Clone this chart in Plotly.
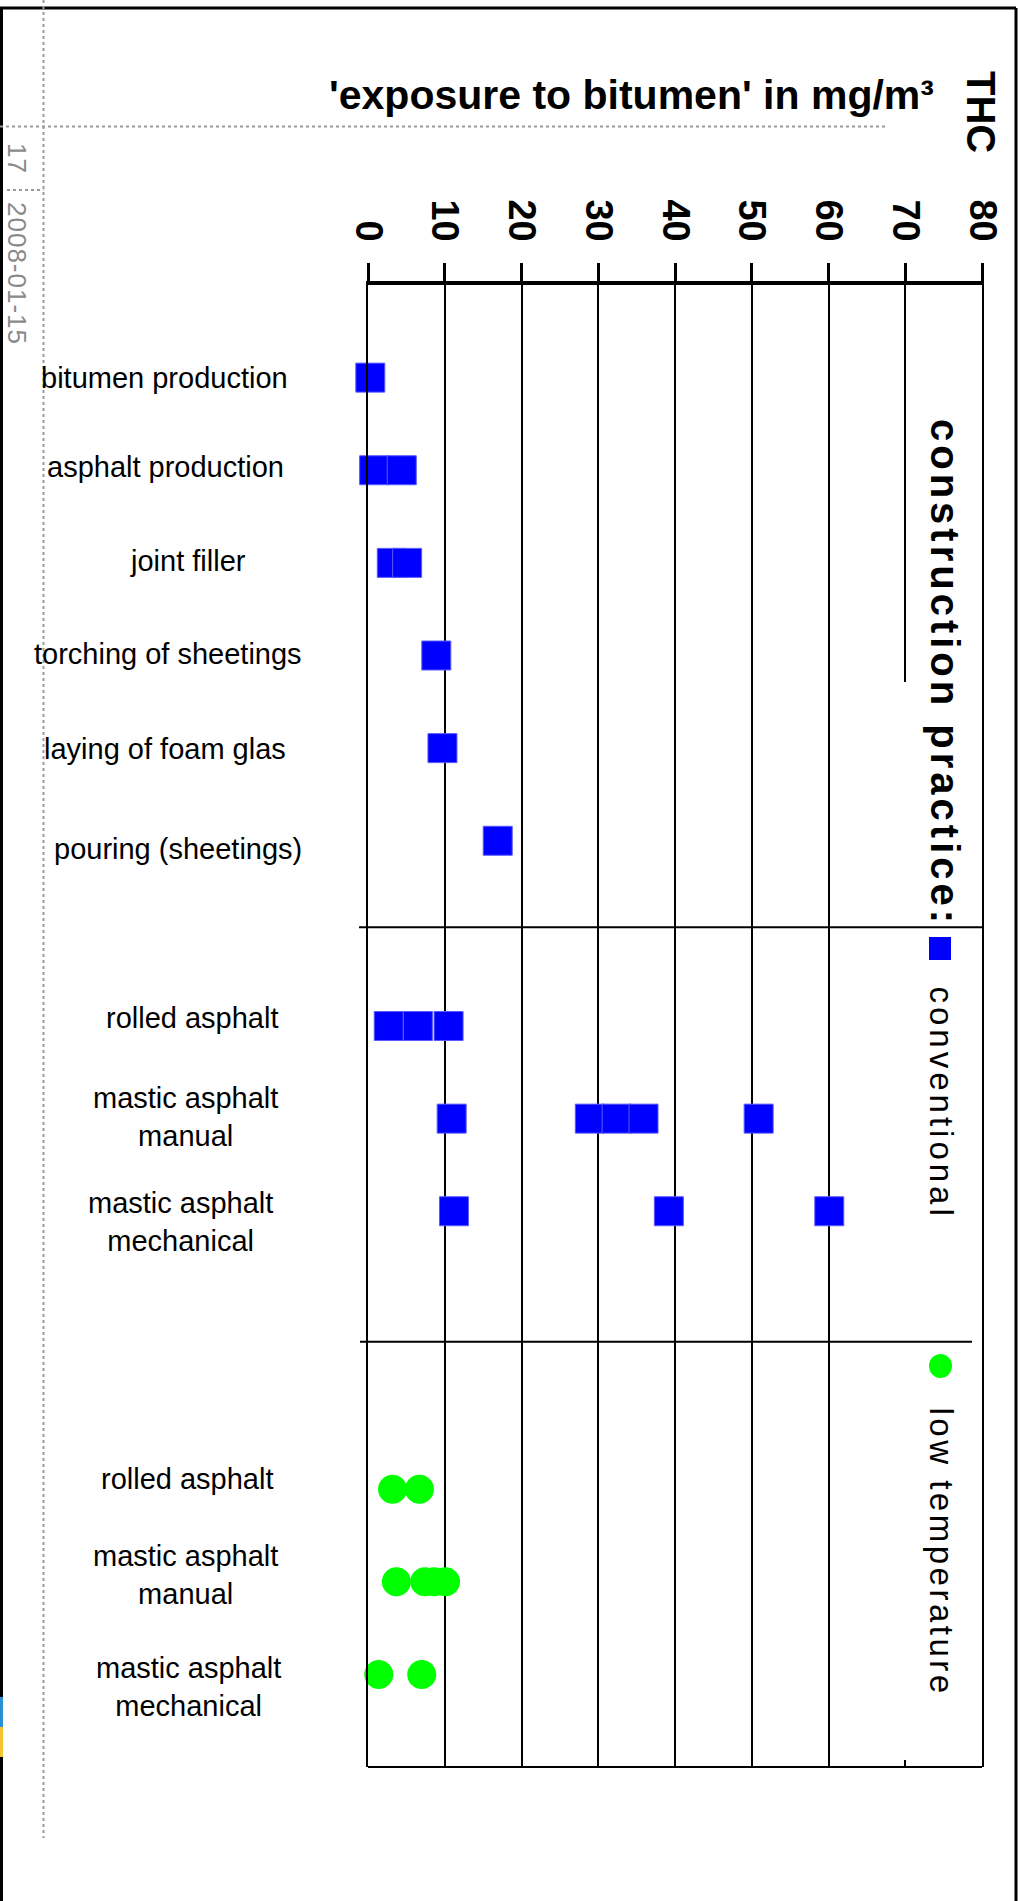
import plotly.graph_objects as go

# ---- data: THC exposure (mg/m³) per working process ----
conv_labels = ["bitumen production", "asphalt production", "joint filler",
               "torching of sheetings", "laying of foam glas", "pouring (sheetings)",
               "rolled asphalt", "mastic asphalt<br>manual", "mastic asphalt<br>mechanical"]
conv_values = [[0.3], [0.8, 4.4], [3.1, 5.1], [8.9], [9.7], [16.9],
               [2.7, 6.5, 10.5], [10.9, 28.9, 32.4, 35.9, 50.9], [11.2, 39.2, 60.1]]

low_labels = ["rolled asphalt", "mastic asphalt<br>manual", "mastic asphalt<br>mechanical"]
low_values = [[3.2, 6.7], [3.7, 7.4, 8.6, 10.1], [1.4, 7.0]]

tick_vals = [0, 10, 20, 30, 40, 50, 60, 70, 80]

# ---- row slots on the vertical axis (three blocks of rows) ----
conv_rows = [0, 1, 2, 3, 4, 5, 7, 8, 9]
low_rows = [12, 13, 14]
block_breaks = [5.934, 10.41]
ROW_PX = 92.625  # pixel height of one row slot

# label placement: horizontal centre (px) and small vertical nudge (px)
label_cx = [164, 165, 188, 168, 165, 178, 192, 185, 181, 187, 185, 188]
label_dy = [0, -3, -2, -2, 1, 8, -8, -2, 11, -10, -7, 13]

# ---- page geometry ----
W, H = 1022, 1901
L, R, T, B = 368, 982, 285, 1767
FONT = "Liberation Sans, Arial, sans-serif"


def px(x):
    return (x - L) / (R - L)


def py(y):
    return (B - y) / (B - T)


def spaced(text, gap):
    return '<span style="letter-spacing:%spx">%s</span>' % (gap, text)


def flatten(rows, values):
    xs, ys = [], []
    for r, vals in zip(rows, values):
        for v in vals:
            xs.append(v)
            ys.append(r)
    return xs, ys


cx, cy = flatten(conv_rows, conv_values)
lx, ly = flatten(low_rows, low_values)

fig = go.Figure()
fig.add_trace(go.Scatter(
    x=cx, y=cy, mode="markers", name="conventional", cliponaxis=False,
    marker=dict(symbol="square", size=29, color="#0000ff",
                line=dict(color="#5a5aff", width=1)),
))
fig.add_trace(go.Scatter(
    x=lx, y=ly, mode="markers", name="low temperature", cliponaxis=False,
    marker=dict(symbol="circle", size=29, color="#00ff00", line=dict(width=0)),
))

annotations = []
# row labels
for lab, r, lxp, dy in zip(conv_labels + low_labels, conv_rows + low_rows, label_cx, label_dy):
    annotations.append(dict(
        text=lab, xref="paper", yref="y", x=px(lxp), y=r + dy / ROW_PX,
        xanchor="center", yanchor="middle", align="center", showarrow=False,
        font=dict(family=FONT, size=29, color="black"),
    ))

# title and side texts
annotations += [
    dict(text="<b>'exposure to bitumen' in mg/m³</b>", xref="paper", yref="paper",
         x=px(936), y=py(95), xanchor="right", yanchor="middle", showarrow=False,
         font=dict(family=FONT, size=41, color="black")),
    dict(text="<b>THC</b>", xref="paper", yref="paper", textangle=90,
         x=px(981), y=py(112), xanchor="center", yanchor="middle", showarrow=False,
         font=dict(family=FONT, size=40, color="black")),
    dict(text="<b>" + spaced("construction practice:", 4) + "</b>", xref="paper",
         yref="paper", textangle=90,
         x=px(945), y=py(417), xanchor="center", yanchor="top", showarrow=False,
         font=dict(family=FONT, size=40, color="black")),
    dict(text=spaced("conventional", 4), xref="paper", yref="paper", textangle=90,
         x=px(941), y=py(984), xanchor="center", yanchor="top", showarrow=False,
         font=dict(family=FONT, size=33, color="black")),
    dict(text=spaced("low temperature", 3.5), xref="paper", yref="paper", textangle=90,
         x=px(941), y=py(1405), xanchor="center", yanchor="top", showarrow=False,
         font=dict(family=FONT, size=33, color="black")),
    dict(text=spaced("17", 1), xref="paper", yref="paper", textangle=90,
         x=px(17), y=py(158), xanchor="center", yanchor="middle", showarrow=False,
         font=dict(family=FONT, size=26, color="#8a8a8a")),
    dict(text=spaced("2008-01-15", 1), xref="paper", yref="paper", textangle=90,
         x=px(17), y=py(273), xanchor="center", yanchor="middle", showarrow=False,
         font=dict(family=FONT, size=26, color="#8a8a8a")),
]

shapes = []
# legend panel hides the 70 grid line
shapes.append(dict(type="rect", xref="paper", yref="paper", layer="above",
                   x0=px(898), x1=px(979), y0=py(682), y1=py(1760),
                   fillcolor="white", line=dict(width=0)))
# block separators
shapes.append(dict(type="line", xref="paper", yref="y", layer="above",
                   x0=px(359), x1=px(982), y0=block_breaks[0], y1=block_breaks[0],
                   line=dict(color="black", width=2)))
shapes.append(dict(type="line", xref="paper", yref="y", layer="above",
                   x0=px(360), x1=px(972), y0=block_breaks[1], y1=block_breaks[1],
                   line=dict(color="black", width=2)))
# bottom edge of the plot frame
shapes.append(dict(type="line", xref="paper", yref="paper", layer="above",
                   x0=0, x1=1, y0=0, y1=0, line=dict(color="black", width=2)))
# legend symbols
shapes.append(dict(type="rect", xref="paper", yref="paper", layer="above",
                   x0=px(929), x1=px(951), y0=py(937), y1=py(960),
                   fillcolor="#0000ff", line=dict(width=0)))
shapes.append(dict(type="circle", xref="paper", yref="paper", layer="above",
                   x0=px(929), x1=px(952), y0=py(1354), y1=py(1378),
                   fillcolor="#00ff00", line=dict(width=0)))
# page frame
for x0, y0, x1, y1 in [(0, 8, 1016, 8), (1.5, 8, 1.5, H), (1016, 8, 1016, H)]:
    shapes.append(dict(type="line", xref="paper", yref="paper", layer="above",
                       x0=px(x0), x1=px(x1), y0=py(y0), y1=py(y1),
                       line=dict(color="black", width=3)))
# dotted guide lines
for x0, y0, x1, y1 in [(43.5, 0, 43.5, 1838), (0, 126.5, 888, 126.5), (7, 190, 43.5, 190)]:
    shapes.append(dict(type="line", xref="paper", yref="paper", layer="above",
                       x0=px(x0), x1=px(x1), y0=py(y0), y1=py(y1),
                       line=dict(color="#9a9a9a", width=2, dash="dot")))
# small colour marks at the left page edge
shapes.append(dict(type="rect", xref="paper", yref="paper", layer="above",
                   x0=px(0), x1=px(3), y0=py(1697), y1=py(1727),
                   fillcolor="#2b8fd8", line=dict(width=0)))
shapes.append(dict(type="rect", xref="paper", yref="paper", layer="above",
                   x0=px(0), x1=px(3), y0=py(1727), y1=py(1757),
                   fillcolor="#f4c430", line=dict(width=0)))

fig.update_layout(
    width=W, height=H,
    margin=dict(l=L, r=W - R, t=T, b=H - B, pad=0),
    paper_bgcolor="white", plot_bgcolor="white",
    showlegend=False,
    font=dict(family=FONT, color="black"),
    annotations=annotations,
    shapes=shapes,
    xaxis=dict(
        range=[0, 80], side="top", tickmode="array", tickvals=tick_vals,
        ticktext=[str(v) for v in tick_vals],
        showline=True, linewidth=4, linecolor="black",
        ticks="outside", ticklen=18, tickwidth=3, tickcolor="black",
        tickangle=90, ticklabelstandoff=8,
        tickfont=dict(family=FONT, size=38, color="black", weight="bold"),
        showgrid=True, gridcolor="black", gridwidth=2, zeroline=False,
        fixedrange=True,
    ),
    yaxis=dict(
        range=[15, -1], showline=True, mirror=True, linewidth=2,
        linecolor="black", showgrid=False, zeroline=False,
        showticklabels=False, ticks="", fixedrange=True,
    ),
)

fig.write_html("out.html")
